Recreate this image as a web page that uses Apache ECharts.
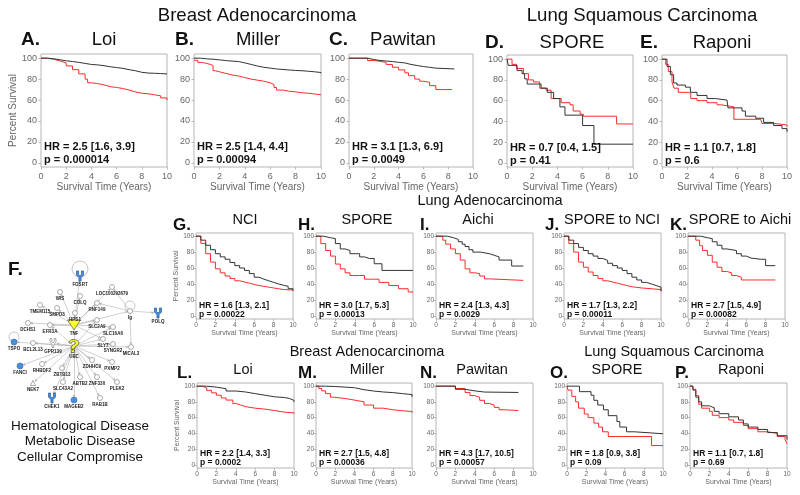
<!DOCTYPE html>
<html><head><meta charset="utf-8">
<script src="https://cdn.jsdelivr.net/npm/echarts@6/dist/echarts.min.js"></script>
<style>html,body{margin:0;padding:0;background:#fff}#c{width:800px;height:495px}</style>
</head><body><div id="c"></div>
<script>
// ---------------- DATA ----------------
const panelLetters = ['A.','B.','C.','D.','E.','G.','H.','I.','J.','K.','L.','M.','N.','O.','P.'];
const panelNames = ['Loi','Miller','Pawitan','SPORE','Raponi','NCI','SPORE','Aichi','SPORE to NCI','SPORE to Aichi','Loi','Miller','Pawitan','SPORE','Raponi'];
const hrTexts = ['HR = 2.5 [1.6, 3.9]','HR = 2.5 [1.4, 4.4]','HR = 3.1 [1.3, 6.9]','HR = 0.7 [0.4, 1.5]','HR = 1.1 [0.7, 1.8]',
  'HR = 1.6 [1.3, 2.1]','HR = 3.0 [1.7, 5.3]','HR = 2.4 [1.3, 4.3]','HR = 1.7 [1.3, 2.2]','HR = 2.7 [1.5, 4.9]',
  'HR = 2.2 [1.4, 3.3]','HR = 2.7 [1.5, 4.8]','HR = 4.3 [1.7, 10.5]','HR = 1.8 [0.9, 3.8]','HR = 1.1 [0.7, 1.8]'];
const pTexts = ['p = 0.000014','p = 0.00094','p = 0.0049','p = 0.41','p = 0.6',
  'p = 0.00022','p = 0.00013','p = 0.0029','p = 0.00011','p = 0.00082',
  'p = 0.0002','p = 0.00036','p = 0.00057','p = 0.09','p = 0.69'];
const sectionTitles = ['Breast Adenocarcinoma','Lung Squamous Carcinoma','Lung Adenocarcinoma','Breast Adenocarcinoma','Lung Squamous Carcinoma'];
const diseaseLines = ['Hematological Disease','Metabolic Disease','Cellular Compromise'];
const xTicks = [0,2,4,6,8,10];
const yTicks = [0,20,40,60,80,100];

// survival curves [years, percent]
const A_black = [[0,100],[0.5,99.5],[1,98.5],[1.5,97.5],[2,96.8],[2.5,96],[3,95],[3.5,94],[4,93.6],[4.5,92.8],[5,91.8],[5.5,91],[6,90.3],[6.5,89],[7,88],[7.5,86.5],[8,85.8],[8.5,85.6],[9,85.3],[9.5,85],[10,84.8]];
const A_red = [[0,100],[0.5,99],[1,97.4],[1.5,95.5],[2,92.6],[2.5,89],[3,85],[3.5,80],[3.7,76.5],[4,75.7],[4.5,74.5],[5,72.8],[5.5,72],[6,71],[6.5,69.5],[7,67.7],[7.5,66.5],[8,66],[8.5,65],[9,64],[9.5,62],[10,60]];
const B_black = [[0,100],[0.5,99.4],[1,99],[1.5,98.4],[2,97.7],[2.5,97.2],[3,96.8],[3.5,95.5],[4,94],[4.5,92.5],[5,91.3],[5.5,90.5],[6,89.7],[6.5,89.2],[7,88.7],[7.5,88.3],[8,88],[8.5,87.5],[9,87],[9.5,86.3],[10,85.5]];
const B_red = [[0,98],[0.3,96],[0.6,95],[1,94],[1.3,93],[1.5,88],[1.7,87],[2,85.5],[2.5,84],[3,83],[3.5,81.5],[4,80],[4.5,79],[5,78],[5.5,76.5],[6,74.8],[6.3,72],[6.5,69.5],[7,68.4],[7.5,67.8],[8,67],[8.5,66.5],[9,65.8],[9.5,65],[10,64.5]];
const C_black = [[0,100],[1,100],[1.5,98.7],[2,97.8],[2.5,97.3],[3,96.8],[3.5,96],[4,95.5],[4.5,94],[5,93],[5.5,92],[6,91.3],[6.5,90.5],[7,89.7],[8.5,89.7]];
const C_red = [[0,100],[1.2,100],[1.5,97.8],[2,97],[2.5,96],[3,94],[3.5,91.3],[4,88.8],[4.5,86],[4.8,83.3],[5.3,80],[5.7,78],[6,77],[6.5,73.7],[7,70],[8.3,70]];
const D_black = [[0,100],[0.1,94],[0.8,89],[1.2,86],[1.4,81],[1.6,76],[2.7,72],[3.2,68],[3.7,62],[4.2,54],[4.6,46],[6,36],[6.9,18],[10,18]];
const D_red = [[0,100],[0.4,95],[0.75,91],[1.3,86],[1.7,80],[2.1,78],[2.6,72],[3.1,70],[3.5,62],[4.3,58],[5,56],[5.25,50],[5.8,47],[6.05,45],[8.7,37.5],[10,37.5]];
const E_black = [[0,100],[0.4,93],[0.67,85],[0.93,77],[1.2,75],[1.87,73],[2.27,68],[2.8,65],[3.6,62],[4.27,60.5],[5.2,60],[5.28,53],[6.4,50],[6.67,45],[7.5,43],[8.13,39],[8.93,36],[9.6,33],[10,30]];
const E_red = [[0,100],[0.3,95],[0.5,88],[0.8,78],[0.95,72],[1.3,68],[2.1,67],[2.3,62],[2.8,60],[3.6,58],[4.4,56],[4.7,54.5],[5.5,54],[5.75,42],[7.9,42],[8,38],[9,36.5],[10,35]];
const G_black = [[0,100],[0.5,95],[1,88.6],[1.5,83],[2,78],[2.5,74],[3,71],[3.5,67],[4,63],[4.5,60],[5,57],[5.5,53],[6,48.5],[6.5,46],[7,44],[7.5,42],[8,40],[8.5,38.5],[9,37],[9.5,34],[10,32]];
const G_red = [[0,100],[0.5,91],[1,78],[1.5,67.5],[2,59],[2.5,54],[3,50],[3.5,47],[4,44],[4.5,42.5],[5,41],[5.5,39.5],[6,38],[6.5,37],[7,36],[7.5,35],[8,34],[8.5,33],[9,32.5],[10,31]];
const H_black = [[0,100],[0.8,98],[1.5,97],[2,90.7],[2.5,84],[3,82],[3.5,78],[4.5,74],[5,72],[5.5,72],[6,65.4],[6.8,57],[10,57]];
const H_red = [[0,100],[0.5,90.7],[1,82],[1.5,75],[2,65],[2.5,59],[3,54],[3.5,50.6],[4.5,50.6],[5,46],[6,46],[6.5,42],[7.5,38],[8.5,34],[9.5,30],[10,30]];
const I_black = [[0,100],[1.2,98],[1.8,96],[2.3,93],[2.7,90],[3,87],[3.4,83],[3.8,80],[4.6,78],[5.5,76],[6,74],[6.5,70],[7.8,62.5],[9,62.5]];
const I_red = [[0,100],[0.7,95],[1,90],[1.5,84],[2,78],[2.5,70],[3,59],[3.5,54],[4,53],[4.5,50],[5,46.4],[5.5,44.5],[9,44.5]];
const J_black = [[0,100],[0.5,95],[1,90.7],[1.5,86],[2,82],[2.5,78],[3,75],[3.5,72],[4,69.6],[4.5,66],[5,63],[5.5,60],[6,57],[6.5,53],[7,48.5],[7.5,45],[8,42],[8.5,40],[9,38],[9.5,36],[10,31]];
const J_red = [[0,100],[0.5,90.7],[1,80],[1.5,67.5],[2,61],[2.5,55],[3,50.6],[3.5,47],[4,44],[4.5,42.5],[5,41],[5.5,39.5],[6,38],[6.5,36.5],[7,35],[8,34],[9,33],[10,31]];
const K_black = [[0,100],[1.3,98],[2,97],[2.5,93],[3,88.6],[3.5,84],[4,82],[5,78],[5.5,75],[6,72.5],[6.5,71],[7.5,71],[8,63],[9,63]];
const K_red = [[0,100],[0.8,95],[1.2,88],[1.5,82],[2,76],[2.5,67.5],[3,61],[3.5,55.7],[4,54],[4.5,50.6],[5,48.5],[5.5,45],[9,45]];
const L_black = [[0,100],[1,98.8],[2,96.7],[3,93.8],[4,92.6],[5,90.5],[6,88.5],[7,86.4],[8,85.6],[9,84.4],[9.5,82],[10,80]];
const L_red = [[0,100],[0.5,98],[1,94.7],[1.5,91.5],[2,88.5],[2.5,85],[3,82.3],[3.7,78],[4,76],[4.5,74],[5,72],[6,70.8],[7,69],[8,67],[9,66],[10,65]];
const M_black = [[0,100],[1,99.5],[2,98.8],[3,98],[4,95.5],[5,93.8],[6,92.6],[7,91.8],[8,90.5],[9,89.3],[10,86.4]];
const M_red = [[0,100],[0.3,97],[0.6,94],[1,90.5],[1.5,86],[1.8,84.4],[3,82.3],[4,80],[5,76],[6,72],[7,70],[8,68.7],[9,67.9],[10,66]];
const N_black = [[0,100],[1,100],[2,96],[3,94],[4,92.5],[5,92],[8.5,92]];
const N_red = [[0,100],[1.5,100],[2,97],[3,92],[3.5,88],[4,86],[4.5,82],[5,78],[5.5,76],[6,73],[6.5,70],[7,69],[8.5,69]];
const O_black = [[0,100],[1.3,93],[2.5,88.5],[2.8,82],[3.2,76],[3.8,70],[4.3,62.5],[5.2,55],[5.5,48],[6.2,42],[7,39.5],[10,39.5]];
const O_red = [[0,100],[0.1,95],[0.5,87],[0.9,80],[1.2,72],[1.8,64.6],[2.2,60],[2.8,53],[3.3,48],[3.7,42],[4.3,36],[8.8,24.5],[10,24.5]];
const P_black = [[0,100],[0.3,95],[0.6,86],[0.9,80],[1.2,75],[2,72.5],[2.5,68],[3,65],[4,61],[5,57],[5.5,52],[6,48],[7,45],[8,41],[9,37],[10,32]];
const P_red = [[0,100],[0.3,96],[0.6,88],[0.9,77],[1.2,72],[2,68],[2.3,63],[3,60],[4,57],[4.5,54],[5.5,50],[6,46],[7,42],[8,40],[9,36],[9.8,32],[10,27]];
const blackCurves = [A_black,B_black,C_black,D_black,E_black,G_black,H_black,I_black,J_black,K_black,L_black,M_black,N_black,O_black,P_black];
const redCurves = [A_red,B_red,C_red,D_red,E_red,G_red,H_red,I_red,J_red,K_red,L_red,M_red,N_red,O_red,P_red];

// network (panel F)
const netNames = ['FOSRT','LOC100293679','WIS','COLQ','RNF149','TMEM115','SMPD3','HPS1','Ig','POLQ','TNF','SLC2A9','DCHS1','EFR3A','SLC16A6','TSPO','BCL2L13','GPR139','UBC','SLY7','SYNGR2','MICAL3','FANCI','RHBDF2','ZBTB13','ZDHHC9','PXMP2','NEK7','SLC43A2','ABTB2','ZNF330','PLEK2','CHEK1','MAGEB2','RAB1B'];
const netX = [80,112,60,80,97,40,57,75,130,158,74,97,28,50,113,14,33,53,74,103,113,131,20,42,62,92,112,33,63,80,97,117,52,74,100];
const netY = [276,287,292,296,303,305,308,313,311,313,325,320,323,325,327,342,343,343,346,339,344,347,366,364,368,360,362,383,382,377,377,382,398,400,398];
const netKind = ['blueY','o','o','o','o','o','o','o','o','blueY','tnf','o','o','o','o','blue','o','rec','ubc','o','o','o','blue','o','o','o','o','tri','o','o','o','o','blueY','blue','o'];
const netLinks = [
 ['TNF','FOSRT'],['TNF','WIS'],['TNF','COLQ'],['TNF','HPS1'],['TNF','SMPD3'],['TNF','TMEM115'],['TNF','EFR3A'],['TNF','DCHS1'],['TNF','SLC2A9'],['TNF','RNF149'],['TNF','Ig'],['TNF','SLC16A6'],['TNF','LOC100293679'],['TNF','SLY7'],
 ['UBC','TNF'],['UBC','TSPO'],['UBC','BCL2L13'],['UBC','GPR139'],['UBC','FANCI'],['UBC','RHBDF2'],['UBC','ZBTB13'],['UBC','NEK7'],['UBC','SLC43A2'],['UBC','CHEK1'],['UBC','MAGEB2'],['UBC','ABTB2'],['UBC','ZNF330'],['UBC','RAB1B'],['UBC','PLEK2'],['UBC','PXMP2'],['UBC','ZDHHC9'],['UBC','SYNGR2'],['UBC','MICAL3'],['UBC','SLY7'],['UBC','EFR3A'],['UBC','SLC2A9'],['UBC','SLC16A6'],
 ['Ig','POLQ'],['Ig','MICAL3'],['Ig','LOC100293679'],['Ig','RNF149']
];
const loopNodes = ['FOSRT','TSPO','Ig'];

// ---------------- LAYOUT ----------------
const FONT = '"Liberation Sans", Arial, Helvetica, sans-serif';
const boxes = [
 [41,54,126,113],[194,54,127,113],[349,54,124,113],[507,55,126,112],[662,55,125,112],
 [196,233,97,86],[316,233,97,86],[436,233,97,86],[564,233,97,86],[688,233,97,86],
 [197,383,97,85],[316,383,96,85],[436,383,97,85],[567,383,96,85],[690,383,97,85]
];
const rowOf = i => i < 5 ? 0 : (i < 10 ? 1 : 2);
const rowStyle = [
 {tick:9, name:10, hr:11, xGap:13, yGap:18, margin:5, hrDy:[93,106], letter:19, title:18.5},
 {tick:6.5, name:7, hr:8.5, xGap:10, yGap:11, margin:3, hrDy:[73,81.5], letter:17, title:14.5},
 {tick:6.5, name:7, hr:8.5, xGap:10, yGap:11, margin:3, hrDy:[71,80], letter:17, title:14.5}
];
const letterPos = [[21,40],[175,40],[329,40],[485,43],[640,43],[173,225],[298,225],[420,225],[545,225],[670,225],[177,373],[298,373],[420,373],[550,373],[675,373]];
const namePos = [[104,40],[258,40],[403,40],[572,43],[722,43],[245,220],[367,220],[478,220],[612,220],[740,220],[243,370],[367,370],[482,370],[617,370],[741,370]];
const sectionPos = [[257,16,18.6],[642,16,18.6],[490,201,14.5],[367,352,14.5],[674,352,14.5]];

const grids=[], xAxes=[], yAxes=[], series=[], graphics=[];
boxes.forEach((b,i)=>{
  const r = rowStyle[rowOf(i)];
  grids.push({left:b[0], top:b[1], width:b[2], height:b[3], show:true, borderColor:'#b5b5b5', borderWidth:1, backgroundColor:'#fff'});
  xAxes.push({gridIndex:i, type:'value', min:0, max:10, interval:2,
    axisLine:{show:false, onZero:false}, splitLine:{show:false},
    axisTick:{show:true, length:2.5, lineStyle:{color:'#aaa', width:0.8}},
    axisLabel:{fontSize:r.tick, color:'#666', margin:r.margin, fontFamily:FONT, customValues:xTicks},
    name:'Survival Time (Years)', nameLocation:'middle', nameGap:r.xGap,
    nameTextStyle:{fontSize:r.name, color:'#666', fontFamily:FONT}});
  yAxes.push({gridIndex:i, type:'value', min:-4, max:104,
    axisLine:{show:false, onZero:false}, splitLine:{show:false},
    axisTick:{show:true, length:2.5, customValues:yTicks, lineStyle:{color:'#aaa', width:0.8}},
    axisLabel:{fontSize:r.tick, color:'#666', margin:r.margin-1, fontFamily:FONT, customValues:yTicks},
    name:(i===0||i===5||i===10)?'Percent Survival':'', nameLocation:'middle', nameGap:r.yGap, nameRotate:90,
    nameTextStyle:{fontSize:r.name, color:'#666', fontFamily:FONT}});
  series.push({type:'line', xAxisIndex:i, yAxisIndex:i, data:blackCurves[i], step:'end', showSymbol:false, silent:true,
    lineStyle:{color:'#333', width:1}, z:3});
  series.push({type:'line', xAxisIndex:i, yAxisIndex:i, data:redCurves[i], step:'end', showSymbol:false, silent:true,
    lineStyle:{color:'#ff2a2a', width:1}, z:2});
  graphics.push({type:'text', x:b[0]+3, y:b[1]+r.hrDy[0], z:10, style:{text:hrTexts[i], font:'bold '+r.hr+'px '+FONT, fill:'#111', textVerticalAlign:'middle'}});
  graphics.push({type:'text', x:b[0]+3, y:b[1]+r.hrDy[1], z:10, style:{text:pTexts[i], font:'bold '+r.hr+'px '+FONT, fill:'#111', textVerticalAlign:'middle'}});
  graphics.push({type:'text', x:letterPos[i][0], y:letterPos[i][1], style:{text:panelLetters[i], font:'bold '+r.letter+'px '+FONT, fill:'#111', textVerticalAlign:'middle'}});
  graphics.push({type:'text', x:namePos[i][0], y:namePos[i][1], style:{text:panelNames[i], font:r.title+'px '+FONT, fill:'#111', textAlign:'center', textVerticalAlign:'middle'}});
});
sectionTitles.forEach((t,k)=>{
  graphics.push({type:'text', x:sectionPos[k][0], y:sectionPos[k][1], style:{text:t, font:sectionPos[k][2]+'px '+FONT, fill:'#111', textAlign:'center', textVerticalAlign:'middle'}});
});
graphics.push({type:'text', x:8, y:270, style:{text:'F.', font:'bold 19px '+FONT, fill:'#111', textVerticalAlign:'middle'}});
diseaseLines.forEach((t,k)=>{
  graphics.push({type:'text', x:80, y:426+k*15.5, style:{text:t, font:'13.5px '+FONT, fill:'#111', textAlign:'center', textVerticalAlign:'middle'}});
});

// network grid
const NG = boxes.length;
grids.push({left:0, top:260, width:170, height:160, show:false});
xAxes.push({gridIndex:NG, type:'value', min:0, max:170, show:false});
yAxes.push({gridIndex:NG, type:'value', min:260, max:420, inverse:true, show:false});
const pathY = 'path://M0,0 L3,0 L3,5 L5,7 L7,5 L7,0 L10,0 L10,6 L6.5,9 L6.5,14 L3.5,14 L3.5,9 L0,6 Z';
const pathQ = 'path://M3,4 C3,1 5,0 7,0 C10,0 12,2 12,4 C12,7 8,7 8,10 L8,11 L5,11 L5,9 C5,6 9,6 9,4 C9,3 8,2 7,2 C6,2 5.5,3 5.5,4 Z M5,12 L8,12 L8,15 L5,15 Z';
const kindStyle = {
  o:{symbol:'circle', size:5, color:'#fff', border:'#888'},
  blue:{symbol:'circle', size:6, color:'#4a8fd8', border:'#3a75b5'},
  blueY:{symbol:pathY, size:[7,10], color:'#4a8fd8', border:'#2f5f9a'},
  tnf:{symbol:'triangle', size:[13,10], color:'#ffff2a', border:'#555', rotate:180},
  ubc:{symbol:pathQ, size:[10,13], color:'#ffff2a', border:'#444'},
  rec:{symbol:pathY, size:[6,9], color:'#fff', border:'#888'},
  tri:{symbol:'triangle', size:5, color:'#fff', border:'#888'}
};
const netNodes = netNames.map((n,k)=>{
  const s = kindStyle[netKind[k]];
  return {name:n, value:[netX[k], netY[k]], symbol:s.symbol, symbolSize:s.size, symbolRotate:s.rotate||0,
    itemStyle:{color:s.color, borderColor:s.border, borderWidth:0.7}};
});
const edgeStyle = {color:'#b0b0b0', width:0.6, opacity:1, curveness:0};
series.push({type:'graph', coordinateSystem:'cartesian2d', xAxisIndex:NG, yAxisIndex:NG, silent:true, z:5,
  color:['#b0b0b0'],
  data:netNodes, links:netLinks.map(l=>({source:l[0], target:l[1], lineStyle:edgeStyle})),
  edgeSymbol:['none','arrow'], edgeSymbolSize:2.5,
  lineStyle:edgeStyle,
  label:{show:true, position:'bottom', distance:1, fontSize:4.5, fontWeight:'bold', color:'#222', fontFamily:FONT, formatter:'{b}'}
});
// self-loop rings
series.push({type:'scatter', xAxisIndex:NG, yAxisIndex:NG, silent:true, z:4,
  data:loopNodes.map(n=>{const k=netNames.indexOf(n); const big = n==='FOSRT'; return {value:[netX[k], netY[k]-(big?7:5)], symbolSize: big?16:10};}),
  symbol:'circle', itemStyle:{color:'rgba(0,0,0,0)', borderColor:'#999', borderWidth:0.7}
});

const chart = echarts.init(document.getElementById('c'));
chart.setOption({animation:false, backgroundColor:'#fff', grid:grids, xAxis:xAxes, yAxis:yAxes, series:series, graphic:{elements:graphics}});
</script></body></html>
